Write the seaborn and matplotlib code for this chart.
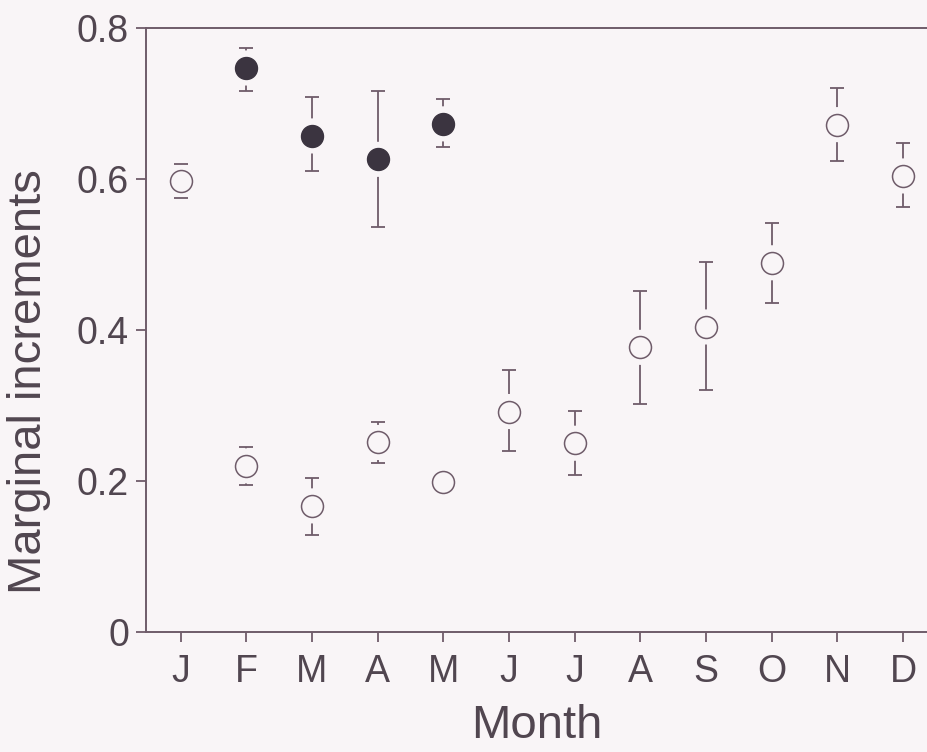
import numpy as np
import pandas as pd
import matplotlib
matplotlib.use("Agg")
import matplotlib.pyplot as plt
import seaborn as sns

# Monthly marginal increments (mean with lower / upper error limits)
month_labels = ["J", "F", "M", "A", "M", "J", "J", "A", "S", "O", "N", "D"]

# Open circles: every month
open_mean = [0.597, 0.220, 0.167, 0.251, 0.198, 0.292, 0.250, 0.377, 0.404, 0.489, 0.672, 0.604]
open_lo   = [0.575, 0.195, 0.128, 0.224, np.nan, 0.240, 0.208, 0.302, 0.320, 0.436, 0.624, 0.563]
open_hi   = [0.620, 0.245, 0.204, 0.278, np.nan, 0.347, 0.293, 0.451, 0.490, 0.542, 0.721, 0.647]

# Filled circles: February to May
filled_month = [1, 2, 3, 4]
filled_mean = [0.747, 0.657, 0.626, 0.673]
filled_lo   = [0.716, 0.610, 0.536, 0.643]
filled_hi   = [0.774, 0.708, 0.716, 0.706]

BG = "#f9f5f7"
LINE = "#6f5c6a"
DARK = "#3b3440"
TEXT = "#514650"

sns.set_theme(style="ticks")
plt.rcParams["font.family"] = ["Liberation Sans", "DejaVu Sans"]

open_df = pd.DataFrame({
    "month": np.arange(len(month_labels)),
    "mean": open_mean,
    "lo": open_lo,
    "hi": open_hi,
})
filled_df = pd.DataFrame({
    "month": filled_month,
    "mean": filled_mean,
    "lo": filled_lo,
    "hi": filled_hi,
})

fig = plt.figure(figsize=(9.28, 7.52), dpi=100, facecolor=BG)
ax = fig.add_axes([0.157, 0.1596, 0.843, 0.8032])
ax.set_facecolor(BG)


def draw_bars(df):
    lower = (df["mean"] - df["lo"]).to_numpy()
    upper = (df["hi"] - df["mean"]).to_numpy()
    eb = ax.errorbar(df["month"], df["mean"], yerr=[lower, upper], fmt="none",
                     ecolor=LINE, elinewidth=1.3, capsize=5.2, capthick=1.3,
                     zorder=2)
    for cap in eb[1]:
        cap.set_zorder(4)


draw_bars(open_df)
draw_bars(filled_df)

# background halo that opens a small gap between marker and whisker
for df in (open_df, filled_df):
    sns.scatterplot(data=df, x="month", y="mean", ax=ax, s=640, color=BG,
                    edgecolor="none", linewidth=0, zorder=3, legend=False)

sns.scatterplot(data=open_df, x="month", y="mean", ax=ax, s=250, color=BG,
                edgecolor=LINE, linewidth=1.1, zorder=5, legend=False)
sns.scatterplot(data=filled_df, x="month", y="mean", ax=ax, s=250, color=DARK,
                edgecolor=DARK, linewidth=1.0, zorder=6, legend=False)

ax.set_xlim(-0.533, 11.38)
ax.set_ylim(0, 0.8)
ax.set_xticks(np.arange(len(month_labels)))
ax.set_xticklabels(month_labels)
ax.set_yticks([0, 0.2, 0.4, 0.6, 0.8])
ax.set_yticklabels(["0", "0.2", "0.4", "0.6", "0.8"])

for side in ("left", "top", "bottom"):
    ax.spines[side].set_color(LINE)
    ax.spines[side].set_linewidth(1.4)
ax.spines["right"].set_visible(False)

ax.tick_params(axis="both", direction="out", length=7, width=1.3, color=LINE,
               labelcolor=TEXT, labelsize=27)
ax.tick_params(axis="x", pad=9)
ax.tick_params(axis="y", pad=5)

ax.set_xlabel("Month", fontsize=34, color=TEXT, labelpad=10)
ax.set_ylabel("Marginal increments", fontsize=34, color=TEXT)
ax.yaxis.set_label_coords(-0.121, 0.414)

fig.savefig("out.png", dpi=100, facecolor=BG)
